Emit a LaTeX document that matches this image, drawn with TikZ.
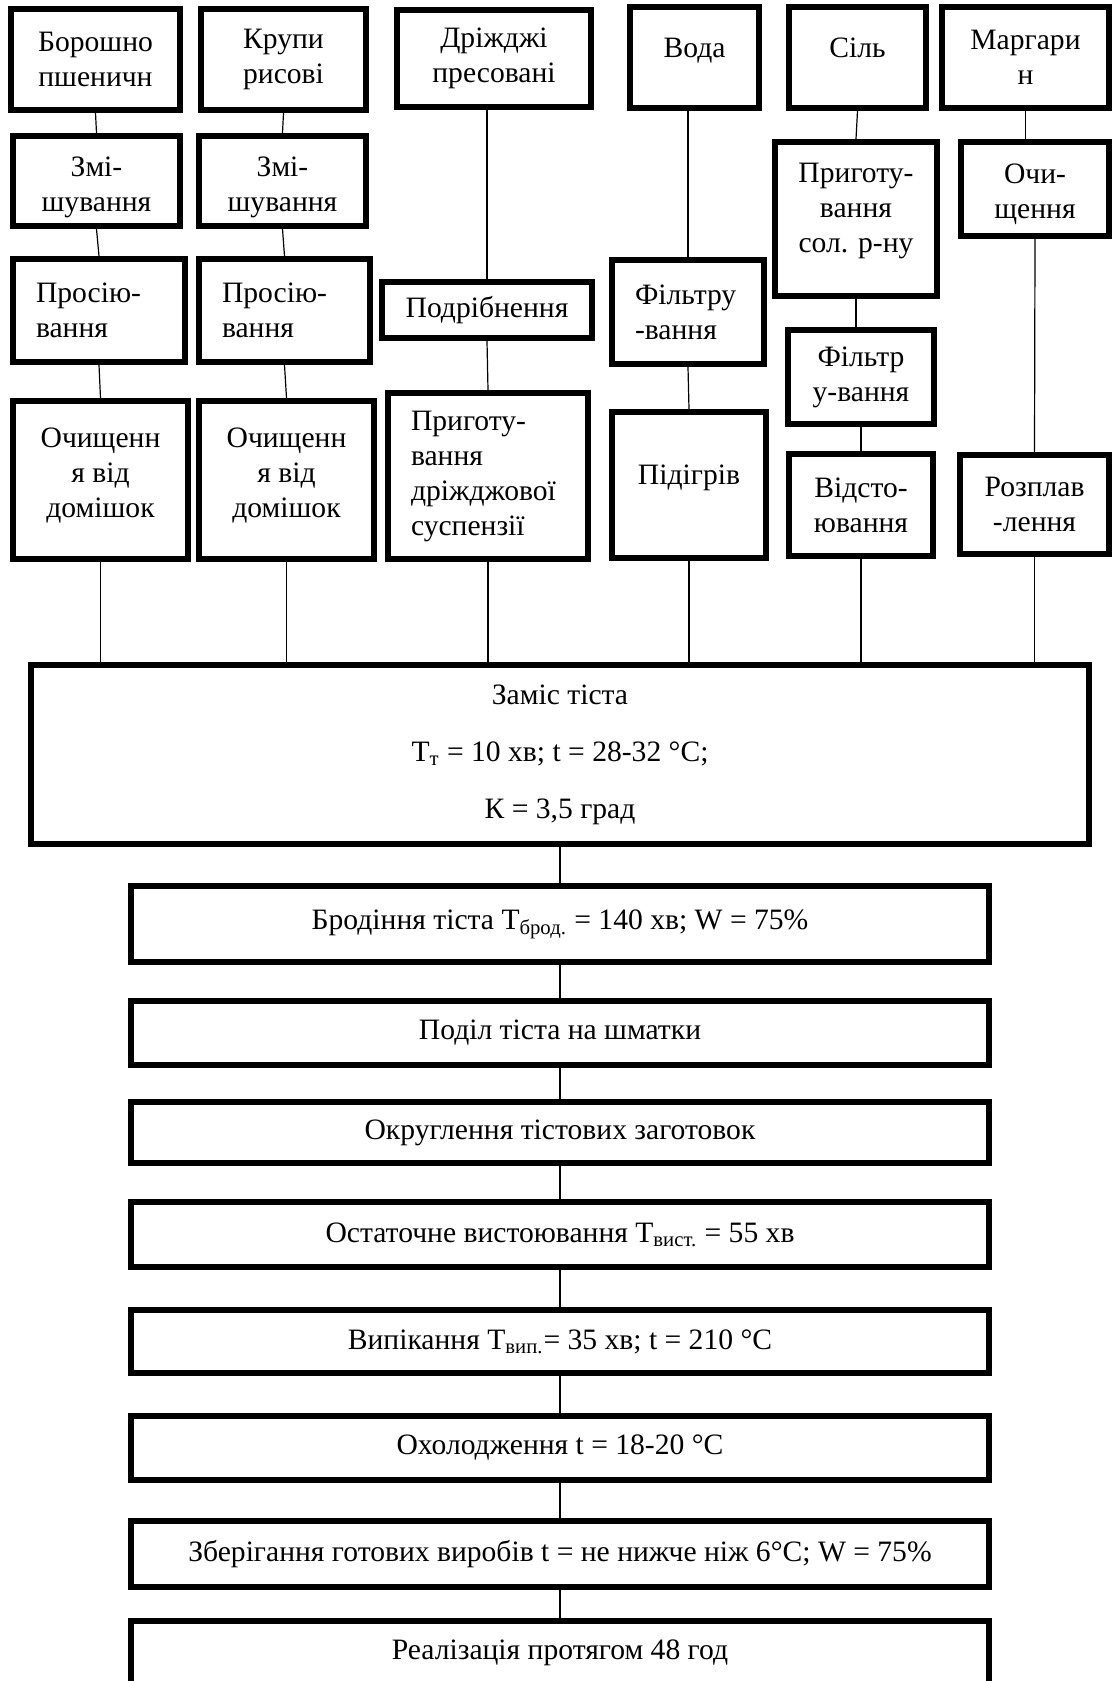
\documentclass[tikz,border=0pt]{standalone}
\usepackage{fontspec}
\setmainfont{Liberation Serif}
\usetikzlibrary{positioning}

\begin{document}
\begin{tikzpicture}[
  x=0.5pt, y=-0.5pt,
  font=\fontsize{14.8pt}{17.5pt}\selectfont,
  every node/.style={align=center},
  box/.style={draw, line width=3pt, inner sep=2pt},
  lbox/.style={box, align=left, inner xsep=11.5pt},
  stage/.style={draw, line width=3pt, inner sep=2pt, minimum width=429pt},
  hightext/.style={text depth=10pt},
  lowtext/.style={text height=33.5pt},
  link/.style={line width=0.6pt},
]
\useasboundingbox (0,0) rectangle (1114,1681);

% ===== TOP: raw materials =====
\node[box, minimum width=84.5pt, minimum height=50.5pt] (borosh) at (95.5,59.5) {Борошно\\пшеничн};
\node[box, minimum width=82.5pt, minimum height=50.5pt] (krupy) at (283.5,59.5) {Крупи\\рисові};
\node[box, minimum width=97pt, minimum height=48.5pt] (drizh) at (494,58.5) {Дріжджі\\пресовані};
\node[box, hightext, minimum width=64.5pt, minimum height=50.5pt] (voda) at (694.5,57.5) {Вода};
\node[box, hightext, minimum width=68.5pt, minimum height=50.5pt] (sil) at (857.5,57.5) {Сіль};
\node[box, minimum width=83.5pt, minimum height=50.5pt] (marg) at (1025.5,57.5) {Маргари\\н};

% ===== preparation steps =====
\node[box, lowtext, minimum width=83.5pt, minimum height=45pt] (zmi1) at (96.5,181) {Змі-\\шування};
\node[box, lowtext, minimum width=83.5pt, minimum height=45pt] (zmi2) at (282.5,181) {Змі-\\шування};
\node[box, text depth=10.7pt, minimum width=81pt, minimum height=77pt] (prigsol) at (856,219) {Приготу-\\вання\\сол. р-ну};
\node[box, text height=33pt, minimum width=74pt, minimum height=47pt] (ochys3) at (1035,189) {Очи-\\щення};

\node[lbox, text width=63pt, minimum height=51.5pt] (prosiy1) at (99,310.5) {Просію-\\вання};
\node[lbox, text width=62.5pt, minimum height=51.5pt] (prosiy2) at (284.5,310.5) {Просію-\\вання};
\node[box, minimum width=105pt, minimum height=28pt] (podrib) at (487,310) {Подрібнення};
\node[lbox, text width=53pt, minimum height=52pt] (filtr1) at (688,312) {Фільтру\\-вання};
\node[box, minimum width=73pt, minimum height=47pt] (filtr2) at (861,377) {Фільтр\\у-вання};

\node[box, text depth=7.7pt, minimum width=87.5pt, minimum height=79pt] (ochys1) at (100.5,480) {Очищенн\\я від\\домішок};
\node[box, text depth=7.7pt, minimum width=87.5pt, minimum height=79pt] (ochys2) at (286.5,480) {Очищенн\\я від\\домішок};
\node[lbox, text width=77pt, minimum height=83pt] (prigdr) at (488,476) {Приготу-\\вання\\дріжджової\\суспензії};
\node[box, hightext, minimum width=77pt, minimum height=73pt] (pidigr) at (689,485) {Підігрів};
\node[box, minimum width=72pt, minimum height=51pt] (vidst) at (861,505) {Відсто-\\ювання};
\node[box, minimum width=74.5pt, minimum height=49.5pt] (rozpl) at (1034.5,504.5) {Розплав\\-лення};

% ===== MAIN: dough and product =====
\node[box, minimum width=529pt, minimum height=89.5pt] (zamis) at (560,754.5)
  {Заміс тіста\\[11pt] T\textsubscript{т} = 10 хв; t = 28-32 °C;\\[11pt] К = 3,5 град};
\node[stage, minimum height=38pt, below=18pt of zamis] (brod) {Бродіння тіста T\textsubscript{брод.} = 140 хв; W = 75\%};
\node[stage, minimum height=32pt, below=16.5pt of brod] (podil) {Поділ тіста на шматки};
\node[stage, minimum height=30.5pt, below=15.5pt of podil] (okrug) {Округлення тістових заготовок};
\node[stage, minimum height=32.5pt, below=16.5pt of okrug] (ostat) {Остаточне вистоювання T\textsubscript{вист.} = 55 хв};
\node[stage, minimum height=31.5pt, below=18.5pt of ostat] (vypik) {Випікання T\textsubscript{вип.}= 35 хв; t = 210 °C};
\node[stage, minimum height=32pt, below=18.5pt of vypik] (okhol) {Охолодження t = 18-20 °C};
\node[stage, minimum height=33pt, below=17.5pt of okhol] (zberig) {Зберігання готових виробів t = не нижче ніж 6°C; W = 75\%};
\node[stage, minimum height=32pt, below=14pt of zberig] (realiz) {Реалізація протягом 48 год};

% ===== connectors =====
\draw[link] (borosh.south) -- (zmi1.north);
\draw[link] (zmi1.south) -- (prosiy1.north);
\draw[link] (prosiy1.south) -- (ochys1.north);
\draw[link] (ochys1.south) -- (ochys1.south |- zamis.north);

\draw[link] (krupy.south) -- (zmi2.north);
\draw[link] (zmi2.south) -- (prosiy2.north);
\draw[link] (prosiy2.south) -- (ochys2.north);
\draw[link] (ochys2.south) -- (ochys2.south |- zamis.north);

\draw[link] (podrib.north |- drizh.south) -- (podrib.north);
\draw[link] (podrib.south) -- (prigdr.north);
\draw[link] (prigdr.south) -- (prigdr.south |- zamis.north);

\draw[link] (filtr1.north |- voda.south) -- (filtr1.north);
\draw[link] (filtr1.south) -- (pidigr.north);
\draw[link] (pidigr.south) -- (pidigr.south |- zamis.north);

\draw[link] (sil.south) -- (prigsol.north);
\draw[link] (prigsol.south) -- (prigsol.south |- filtr2.north);
\draw[link] (filtr2.south) -- (vidst.north);
\draw[link] (vidst.south) -- (vidst.south |- zamis.north);

\draw[link] (marg.south) -- (marg.south |- ochys3.north);
\draw[link] (ochys3.south) -- (rozpl.north);
\draw[link] (rozpl.south) -- (rozpl.south |- zamis.north);

\draw[link] (zamis.south) -- (brod.north);
\draw[link] (brod.south) -- (podil.north);
\draw[link] (podil.south) -- (okrug.north);
\draw[link] (okrug.south) -- (ostat.north);
\draw[link] (ostat.south) -- (vypik.north);
\draw[link] (vypik.south) -- (okhol.north);
\draw[link] (okhol.south) -- (zberig.north);
\draw[link] (zberig.south) -- (realiz.north);
\end{tikzpicture}
\end{document}
